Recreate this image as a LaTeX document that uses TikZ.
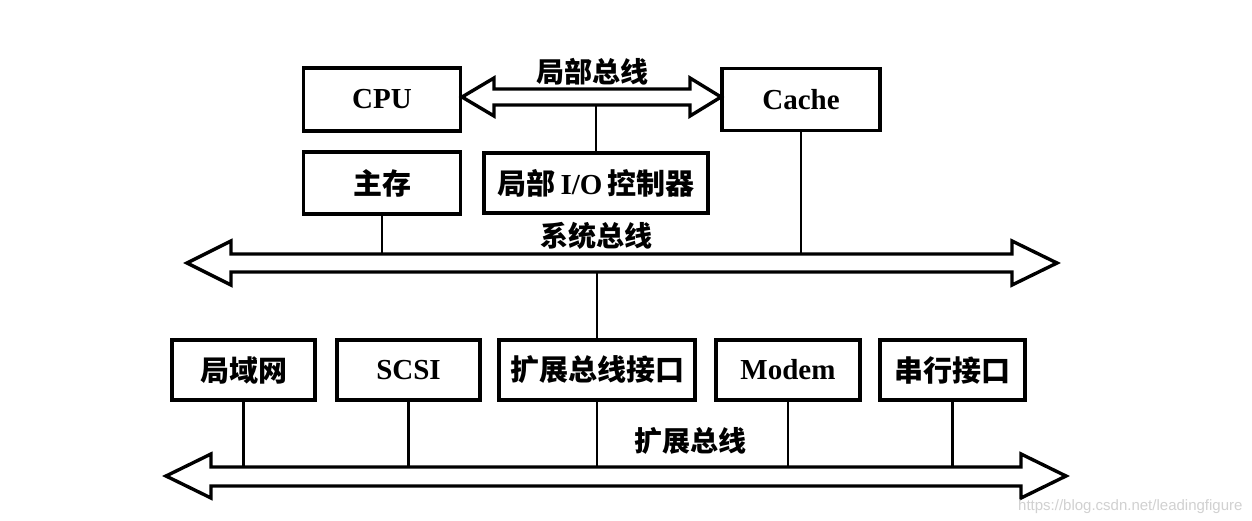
\documentclass[tikz,border=0pt]{standalone}
\usepackage{fontspec}
\setmainfont{Liberation Serif}
\newfontfamily\cjk{Noto Sans CJK SC}
\newfontfamily\wmfont{Liberation Sans}
\newcommand\zh[1]{{\cjk\bfseries #1}}
\begin{document}
\begin{tikzpicture}[x=1pt,y=-1pt,
  box/.style={draw,line width=3.6pt,inner sep=0pt,font=\fontsize{29}{32}\selectfont\bfseries},
  link/.style={line width=2.4pt},
  bus/.style={draw,line width=3.4pt,fill=white,line join=miter},
  buslabel/.style={font=\fontsize{28}{30}\selectfont}]
\useasboundingbox (0,0) rectangle (1252,520);
\fill[white] (0,0) rectangle (1252,520);

% boxes, top part
\node[box,minimum width=157pt,minimum height=63pt] (cpu) at (382,99.5) {CPU};
\node[box,minimum width=158pt,minimum height=62pt] (cache) at (801,99.5) {Cache};
\node[box,minimum width=157pt,minimum height=62pt] (mem) at (382,183) {\zh{主存}};
\node[box,minimum width=224pt,minimum height=60pt] (lio) at (596,183) {\zh{局部}\,I/O\,\zh{控制器}};

% bottom boxes
\node[box,minimum width=143pt,minimum height=60pt] (lan) at (243.5,370) {\zh{局域网}};
\node[box,minimum width=143pt,minimum height=60pt] (scsi) at (408.5,370) {SCSI};
\node[box,minimum width=196pt,minimum height=60pt] (ebi) at (597,370) {\zh{扩展总线接口}};
\node[box,minimum width=144pt,minimum height=60pt] (modem) at (788,370) {Modem};
\node[box,minimum width=145pt,minimum height=60pt] (ser) at (952.5,370) {\zh{串行接口}};

% bus reference coordinates (top and bottom of shafts)
\coordinate (lbTop) at (0,89);
\coordinate (lbBot) at (0,105);
\coordinate (sbTop) at (0,254);
\coordinate (sbBot) at (0,272);
\coordinate (ebTop) at (0,467);
\coordinate (ebBot) at (0,486);

% connectors
\draw[link] (lio.north) -- (lio.north |- lbBot);
\draw[link] (mem.south) -- (mem.south |- sbTop);
\draw[link] (cache.south) -- (cache.south |- sbTop);
\draw[link] (ebi.north) -- (ebi.north |- sbBot);
\draw[link] (lan.south) -- (lan.south |- ebTop);
\draw[link] (scsi.south) -- (scsi.south |- ebTop);
\draw[link] (ebi.south) -- (ebi.south |- ebTop);
\draw[link] (modem.south) -- (modem.south |- ebTop);
\draw[link] (ser.south) -- (ser.south |- ebTop);

% local bus (double arrow between CPU and Cache)
\draw[bus] (462,97) -- (494,78) -- (494,89) -- (690,89) -- (690,78)
  -- (721,97) -- (690,116) -- (690,105) -- (494,105) -- (494,116) -- cycle;

% system bus
\draw[bus] (187,263) -- (231,241) -- (231,254) -- (1012,254) -- (1012,241)
  -- (1057,263) -- (1012,285) -- (1012,272) -- (231,272) -- (231,285) -- cycle;

% expansion bus
\draw[bus] (166,476) -- (211,454) -- (211,467) -- (1021,467) -- (1021,454)
  -- (1066,476) -- (1021,498) -- (1021,486) -- (211,486) -- (211,498) -- cycle;

% labels
\node[buslabel] (lbl1) at (592,72) {\zh{局部总线}};
\node[buslabel] (lbl2) at (596,236) {\zh{系统总线}};
\node[buslabel] (lbl3) at (690,441) {\zh{扩展总线}};

% watermark
\node[text=black!18,font=\wmfont\fontsize{15}{17}\selectfont,anchor=east] (wm) at (1246,507) {https://blog.csdn.net/leadingfigure};
\end{tikzpicture}
\end{document}
